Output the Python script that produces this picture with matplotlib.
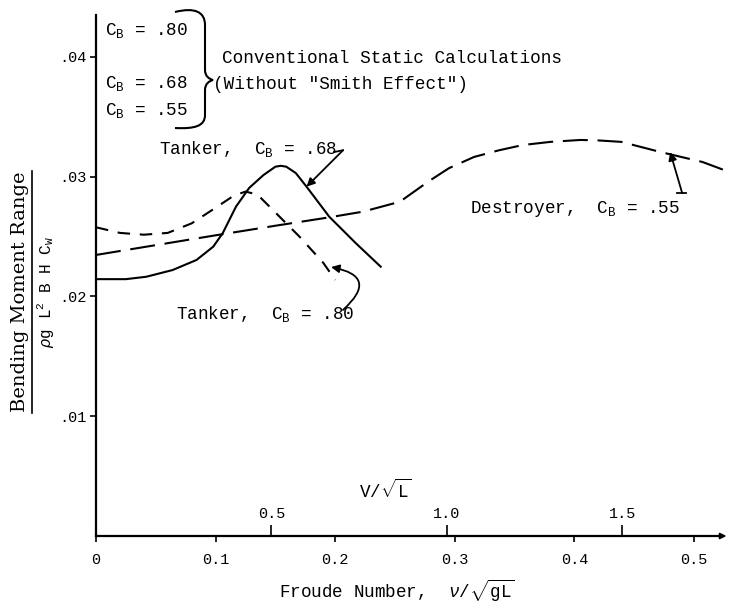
import matplotlib
matplotlib.use('Agg')
import matplotlib.pyplot as plt
from matplotlib.path import Path
from matplotlib.patches import PathPatch
from matplotlib.lines import Line2D

# ---------------- data ----------------
tanker68_fn = [0.0, 0.025, 0.042, 0.064, 0.084, 0.098, 0.106, 0.117, 0.128,
               0.140, 0.150, 0.1545, 0.159, 0.167, 0.176, 0.195, 0.217, 0.238]
tanker68_val = [0.02144, 0.02144, 0.02164, 0.02220, 0.02304, 0.02415, 0.02529,
                0.02749, 0.02905, 0.03013, 0.03083, 0.03090, 0.03083, 0.03030,
                0.02916, 0.02665, 0.02446, 0.02248]

tanker80_fn = [0.0, 0.02, 0.04, 0.06, 0.08, 0.10, 0.115, 0.125, 0.135,
               0.15, 0.17, 0.19, 0.20]
tanker80_val = [0.02577, 0.02530, 0.02515, 0.02530, 0.02610, 0.02740, 0.02840,
                0.02875, 0.02850, 0.02700, 0.02500, 0.02280, 0.02137]

destroyer_fn = [0.0, 0.05, 0.10, 0.15, 0.195, 0.223, 0.254, 0.278, 0.295,
                0.316, 0.337, 0.357, 0.38, 0.405, 0.42, 0.439, 0.472, 0.507, 0.529]
destroyer_val = [0.02346, 0.02428, 0.02510, 0.02590, 0.02660, 0.02707, 0.02790,
                 0.02960, 0.03070, 0.03164, 0.03220, 0.03264, 0.03290, 0.03306,
                 0.03302, 0.03290, 0.03205, 0.03122, 0.03040]

fn_ticks = [0.0, 0.1, 0.2, 0.3, 0.4, 0.5]
fn_labels = ['0', '0.1', '0.2', '0.3', '0.4', '0.5']
y_ticks = [0.01, 0.02, 0.03, 0.04]
y_labels = ['.01', '.02', '.03', '.04']
v_ticks = [0.5, 1.0, 1.5]
v_labels = ['0.5', '1.0', '1.5']
static_cb = ['.80', '.68', '.55']
V_PER_FN = 3.41   # V/sqrt(L) (knots, ft) per unit Froude number, as drawn

# ---------------- style ----------------
plt.rcParams.update({
    'font.family': ['Liberation Mono', 'DejaVu Sans'],
    'mathtext.fontset': 'custom',
    'mathtext.rm': 'Liberation Mono',
    'mathtext.it': 'Liberation Mono:italic',
    'mathtext.bf': 'Liberation Mono:bold',
    'mathtext.sf': 'Liberation Mono',
    'lines.scale_dashes': False,
})

W, H = 730, 605
fig = plt.figure(figsize=(W / 100, H / 100), dpi=100)


def P(px, py):
    """reference-pixel position -> figure fraction"""
    return px / W, 1 - py / H


ax = fig.add_axes([96 / W, 69 / H, 634 / W, 521 / H])
ax.set_xlim(0, 0.53)
ax.set_ylim(0, 0.04349)
for s in ('top', 'right'):
    ax.spines[s].set_visible(False)
ax.spines['left'].set_linewidth(1.6)
ax.spines['bottom'].set_linewidth(1.6)
ax.spines['bottom'].set_bounds(0, 0.5243)

ax.set_xticks(fn_ticks, fn_labels)
ax.set_yticks(y_ticks, y_labels)
ax.tick_params(axis='x', direction='out', length=4, width=1.2, pad=8, labelsize=11)
ax.tick_params(axis='y', direction='out', length=4, width=1.2, pad=3, labelsize=11)

# arrow at end of Froude axis
ax.annotate('', xy=(0.527, 0), xytext=(0.515, 0), xycoords='data',
            arrowprops=dict(arrowstyle='-|>', color='k', lw=1.2,
                            mutation_scale=9, shrinkA=0, shrinkB=0),
            annotation_clip=False)

# secondary V/sqrt(L) scale drawn on the Froude axis
sec = ax.secondary_xaxis(0.0, functions=(lambda f: f * V_PER_FN,
                                         lambda v: v / V_PER_FN))
sec.set_alignment('top')
sec.spines['top'].set_visible(False)
sec.set_xticks(v_ticks, v_labels)
sec.tick_params(direction='out', length=8, width=1.2, pad=3, labelsize=11)

# ---------------- curves ----------------
ax.plot(tanker68_fn, tanker68_val, color='k', lw=1.5)
ax.plot(tanker80_fn, tanker80_val, color='k', lw=1.5, dashes=(9, 7))
ax.plot(destroyer_fn, destroyer_val, color='k', lw=1.5, dashes=(18, 7),
        clip_on=False)

# ---------------- curve labels ----------------
TFS = 12.7
ax.text(0.0527, 0.0319, r'Tanker,  C$_\mathrm{B}$ = .68', fontsize=TFS, va='baseline')
ax.plot([0.199, 0.2065], [0.03205, 0.0322], color='k', lw=1.3)
ax.annotate('', xy=(tanker68_fn[14], tanker68_val[14]), xytext=(0.2065, 0.0322),
            arrowprops=dict(arrowstyle='-|>', color='k', lw=1.3,
                            mutation_scale=12, shrinkA=0, shrinkB=0))

ax.text(0.3127, 0.0270, r'Destroyer,  C$_\mathrm{B}$ = .55', fontsize=TFS, va='baseline')
ax.plot([0.486, 0.4935], [0.02863, 0.02863], color='k', lw=1.3)
ax.annotate('', xy=(0.480, 0.03205), xytext=(0.490, 0.02863),
            arrowprops=dict(arrowstyle='-|>', color='k', lw=1.3,
                            mutation_scale=12, shrinkA=0, shrinkB=0))

ax.text(0.0669, 0.0181, r'Tanker,  C$_\mathrm{B}$ = .80', fontsize=TFS, va='baseline')
ax.annotate('', xy=(0.1965, 0.02245), xytext=(0.2065, 0.01887),
            arrowprops=dict(arrowstyle='-|>', color='k', lw=1.3,
                            mutation_scale=12, shrinkA=0, shrinkB=0,
                            connectionstyle='arc3,rad=1.0'))

# ---------------- conventional static block ----------------
for cb, base in zip(static_cb, [35, 88, 115]):
    fig.text(*P(105, base), r'C$_\mathrm{B}$ = ' + cb, fontsize=TFS, va='baseline')

brace = [(175, 12), (195, 7), (205, 12), (205, 25),
         (205, 70),
         (205, 76), (209, 79), (213, 80),
         (209, 81), (205, 84), (205, 90),
         (205, 115),
         (205, 126), (195, 129), (175, 128)]
codes = [Path.MOVETO, Path.CURVE4, Path.CURVE4, Path.CURVE4,
         Path.LINETO,
         Path.CURVE4, Path.CURVE4, Path.CURVE4,
         Path.CURVE4, Path.CURVE4, Path.CURVE4,
         Path.LINETO,
         Path.CURVE4, Path.CURVE4, Path.CURVE4]
fig.patches.append(PathPatch(Path([P(*p) for p in brace], codes),
                             transform=fig.transFigure, fill=False,
                             lw=1.5, color='k'))
fig.text(*P(222, 63), 'Conventional Static Calculations', fontsize=TFS, va='baseline')
fig.text(*P(213, 89), '(Without "Smith Effect")', fontsize=TFS, va='baseline')

# ---------------- axis titles ----------------
fig.text(*P(20, 292), 'Bending Moment Range', family='DejaVu Serif', fontsize=14,
         rotation=90, ha='center', va='center')
fig.add_artist(Line2D([32 / W, 32 / W], [1 - 413 / H, 1 - 171 / H],
                      transform=fig.transFigure, color='k', lw=1.2))
fig.text(*P(46, 292), r'$\rho$g L$^2$ B H C$_\mathrm{W}$', fontsize=11.5,
         rotation=90, ha='center', va='center')

fig.text(*P(397, 591), r'Froude Number,  $\nu/\sqrt{\mathrm{gL}}$', fontsize=TFS,
         ha='center', va='center')
fig.text(*P(385, 490), r'V$/\sqrt{\mathrm{L}}$', fontsize=TFS, ha='center', va='center')

fig.savefig('out.png', dpi=100)
